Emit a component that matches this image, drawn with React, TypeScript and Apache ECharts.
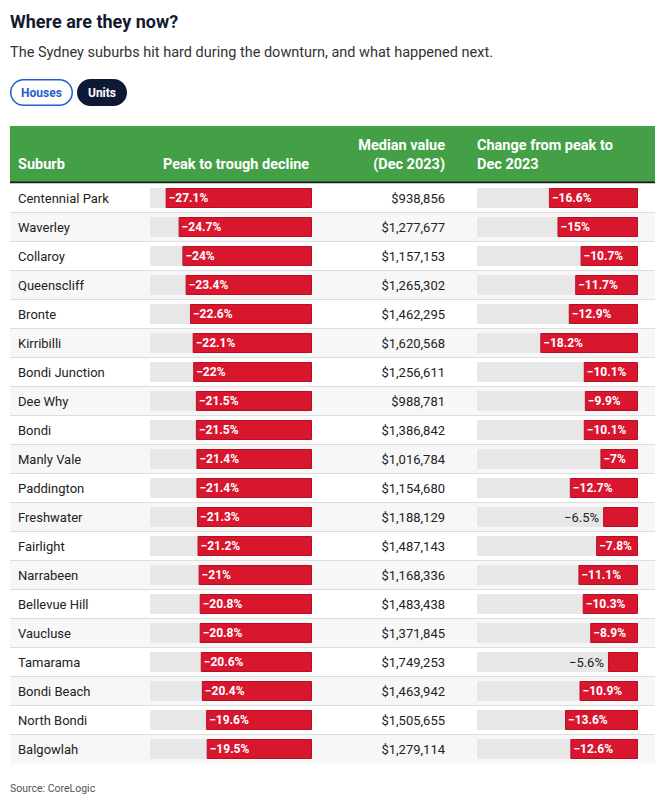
import React, { useEffect, useRef } from "react";
import * as echarts from "echarts";

const suburbs = [
  "Centennial Park", "Waverley", "Collaroy", "Queenscliff", "Bronte",
  "Kirribilli", "Bondi Junction", "Dee Why", "Bondi", "Manly Vale",
  "Paddington", "Freshwater", "Fairlight", "Narrabeen", "Bellevue Hill",
  "Vaucluse", "Tamarama", "Bondi Beach", "North Bondi", "Balgowlah",
];
const peakToTrough = [
  -27.1, -24.7, -24, -23.4, -22.6, -22.1, -22, -21.5, -21.5, -21.4,
  -21.4, -21.3, -21.2, -21, -20.8, -20.8, -20.6, -20.4, -19.6, -19.5,
];
const medianValue = [
  938856, 1277677, 1157153, 1265302, 1462295, 1620568, 1256611, 988781, 1386842, 1016784,
  1154680, 1188129, 1487143, 1168336, 1483438, 1371845, 1749253, 1463942, 1505655, 1279114,
];
const changeFromPeak = [
  -16.6, -15, -10.7, -11.7, -12.9, -18.2, -10.1, -9.9, -10.1, -7,
  -12.7, -6.5, -7.8, -11.1, -10.3, -8.9, -5.6, -10.9, -13.6, -12.6,
];
const columnHeaders = ["Suburb", "Peak to trough decline", "Median value", "(Dec 2023)", "Change from peak to", "Dec 2023"];
const titleText = "Where are they now?";
const subtitleText = "The Sydney suburbs hit hard during the downturn, and what happened next.";
const toggleLabels = ["Houses", "Units"];
const sourceText = "Source: CoreLogic";

const FONT = "Roboto, 'Noto Sans', sans-serif";
const TOP = 183.5;
const ROW_H = 29;
const N = suburbs.length;

const fmtPct = (v: number) => "\u2212" + Math.abs(v) + "%";
const fmtMoney = (v: number) => "$" + v.toLocaleString("en-US");

function barData(values: number[]) {
  return values.map((v) => {
    if (Math.abs(v) < 7) {
      return {
        value: v,
        label: { position: "left", distance: 4, color: "#222", fontWeight: "normal", fontSize: 13 },
      };
    }
    return { value: v };
  });
}

function barSeries(idx: number, values: number[]) {
  return {
    type: "bar",
    xAxisIndex: idx,
    yAxisIndex: idx,
    data: barData(values),
    barWidth: 20,
    itemStyle: { color: "#d8172f", borderColor: "#b90f25", borderWidth: 1 },
    showBackground: true,
    backgroundStyle: { color: "#e7e7e7" },
    label: {
      show: true,
      position: "insideLeft",
      distance: 3,
      formatter: (p: any) => fmtPct(p.value),
      color: "#fff",
      fontWeight: "bold",
      fontSize: 12,
      fontFamily: FONT,
    },
  };
}

const splitColors = suburbs.map(() => "#dddddd");
splitColors.push("rgba(0,0,0,0)");
splitColors[0] = "rgba(0,0,0,0)";

export default function App() {
  const ref = useRef<HTMLDivElement>(null);
  useEffect(() => {
    if (!ref.current) return;
    const chart = echarts.init(ref.current, undefined, { renderer: "svg" });
    const hidden = { show: false };
    const catBase = {
      type: "category",
      data: suburbs,
      inverse: true,
      axisLine: hidden,
      axisTick: hidden,
    };
    const headerStyle = { fill: "#fff", font: `bold 14.5px ${FONT}` };
    chart.setOption({
      animation: false,
      backgroundColor: "#ffffff",
      textStyle: { fontFamily: FONT },
      grid: [
        { left: 10, width: 645, top: TOP, height: ROW_H * N },
        { left: 150, width: 162, top: TOP, height: ROW_H * N },
        { left: 477, width: 161, top: TOP, height: ROW_H * N },
      ],
      xAxis: [
        { gridIndex: 0, type: "value", min: 0, max: 1, show: false },
        { gridIndex: 1, type: "value", min: -30, max: 0, show: false },
        { gridIndex: 2, type: "value", min: -30, max: 0, show: false },
      ],
      yAxis: [
        {
          ...catBase,
          gridIndex: 0,
          axisLabel: hidden,
          splitLine: { show: true, lineStyle: { color: splitColors, width: 1 } },
          splitArea: { show: true, areaStyle: { color: ["#ffffff", "#f7f7f7"] } },
        },
        {
          ...catBase,
          gridIndex: 1,
          axisLabel: { align: "left", margin: 132, fontSize: 13, color: "#222", fontFamily: FONT },
        },
        {
          ...catBase,
          gridIndex: 2,
          axisLabel: {
            align: "right",
            margin: 32,
            fontSize: 13,
            color: "#222",
            fontFamily: FONT,
            formatter: (_v: string, i: number) => fmtMoney(medianValue[i]),
          },
        },
      ],
      series: [barSeries(1, peakToTrough), barSeries(2, changeFromPeak)],
      graphic: [
        { type: "text", x: 10, y: 21, style: { text: titleText, fill: "#141a2e", font: `bold 18px ${FONT}`, verticalAlign: "middle" } },
        { type: "text", x: 10, y: 52, style: { text: subtitleText, fill: "#333", font: `14.5px ${FONT}`, verticalAlign: "middle" } },
        { type: "rect", shape: { x: 10.75, y: 79.75, width: 61.5, height: 25.5, r: 13 }, style: { fill: "#fff", stroke: "#1f5fc9", lineWidth: 1.5 } },
        { type: "text", x: 41.5, y: 92.5, style: { text: toggleLabels[0], fill: "#1f5fc9", font: `bold 12px ${FONT}`, align: "center", verticalAlign: "middle" } },
        { type: "rect", shape: { x: 77, y: 79, width: 50, height: 27, r: 13.5 }, style: { fill: "#0e1a35" } },
        { type: "text", x: 102, y: 92.5, style: { text: toggleLabels[1], fill: "#fff", font: `bold 12px ${FONT}`, align: "center", verticalAlign: "middle" } },
        { type: "rect", shape: { x: 10, y: 126, width: 645, height: 56 }, style: { fill: "#43a047" } },
        { type: "rect", shape: { x: 10, y: 181.5, width: 645, height: 2 }, style: { fill: "#1b1b1b" } },
        { type: "text", x: 18, y: 164, style: { ...headerStyle, text: columnHeaders[0], verticalAlign: "middle" } },
        { type: "text", x: 163, y: 164, style: { ...headerStyle, text: columnHeaders[1], verticalAlign: "middle" } },
        { type: "text", x: 445, y: 145, style: { ...headerStyle, text: columnHeaders[2], align: "right", verticalAlign: "middle" } },
        { type: "text", x: 445, y: 164, style: { ...headerStyle, text: columnHeaders[3], align: "right", verticalAlign: "middle" } },
        { type: "text", x: 477, y: 145, style: { ...headerStyle, text: columnHeaders[4], verticalAlign: "middle" } },
        { type: "text", x: 477, y: 164, style: { ...headerStyle, text: columnHeaders[5], verticalAlign: "middle" } },
        { type: "text", x: 10, y: 788, style: { text: sourceText, fill: "#555", font: `10.5px ${FONT}`, verticalAlign: "middle" } },
      ],
    });
    return () => chart.dispose();
  }, []);
  return (
    <div
      ref={ref}
      style={{ position: "fixed", left: 0, top: 0, width: 668, height: 808 }}
    />
  );
}
